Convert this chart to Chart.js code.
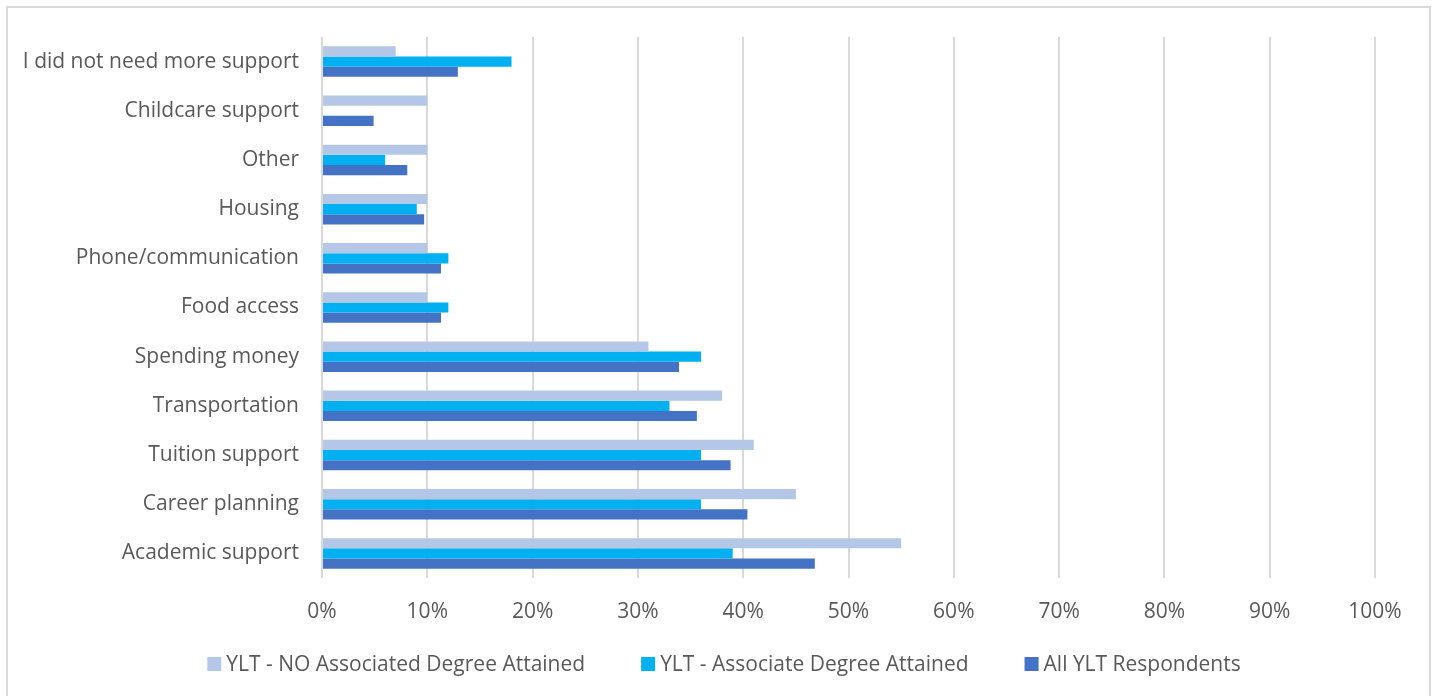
<!DOCTYPE html>
<html>
<head>
<meta charset="utf-8">
<title>YLT support needs</title>
<script src="https://cdn.jsdelivr.net/npm/chart.js@4.4.1/dist/chart.umd.min.js"></script>
<style>
    html, body { margin: 0; padding: 0; background: #ffffff; }
    .chart-wrap { position: relative; width: 1434px; height: 696px; overflow: hidden; }
    .chart-frame {
        position: absolute; left: 6px; top: 6px; width: 1421px; height: 720px;
        border: 2px solid #d9d9d9; pointer-events: none;
    }
</style>
</head>
<body>
<div class="chart-wrap">
    <canvas id="supportChart" width="1434" height="696"></canvas>
    <div class="chart-frame"></div>
</div>
<script>
// Категории (сверху вниз, как на картинке)
const categories = [
    'I did not need more support',
    'Childcare support',
    'Other',
    'Housing',
    'Phone/communication',
    'Food access',
    'Spending money',
    'Transportation',
    'Tuition support',
    'Career planning',
    'Academic support'
];

// Значения серий, %
const noDegreeValues = [7, 10, 10, 10, 10, 10, 31, 38, 41, 45, 55];
const degreeValues = [18, 0, 6, 9, 12, 12, 36, 33, 36, 36, 39];
const allRespondentsValues = [12.9, 4.9, 8.1, 9.7, 11.3, 11.3, 33.9, 35.6, 38.8, 40.4, 46.8];

const seriesNames = [
    'YLT - NO Associated Degree Attained',
    'YLT - Associate Degree Attained',
    'All YLT Respondents'
];

// Подписи оси X
const xTicks = [0, 10, 20, 30, 40, 50, 60, 70, 80, 90, 100];

const textColor = '#595959';
const fontFamily = "'Open Sans', sans-serif";

document.addEventListener('DOMContentLoaded', function() {
    initSupportChart();
});

// Легенда в стиле Excel: маленький квадрат и текст рядом
const excelLegend = {
    id: 'excelLegend',
    afterDraw(chart, args, opts) {
        const ctx = chart.ctx;
        const items = chart.data.datasets;
        ctx.save();
        ctx.font = opts.fontSize + 'px ' + fontFamily;
        ctx.textBaseline = 'middle';
        ctx.textAlign = 'left';

        const widths = items.map(ds => opts.box + opts.boxGap + ctx.measureText(ds.label).width);
        const total = widths.reduce((a, b) => a + b, 0) + opts.itemGap * (items.length - 1);
        let x = chart.width / 2 + opts.shift - total / 2;
        const y = opts.y;

        items.forEach((ds, i) => {
            ctx.fillStyle = ds.backgroundColor;
            ctx.fillRect(x, y - opts.box / 2, opts.box, opts.box);
            ctx.fillStyle = textColor;
            ctx.fillText(ds.label, x + opts.box + opts.boxGap, y + 1);
            x += widths[i] + opts.itemGap;
        });
        ctx.restore();
    }
};

function initSupportChart() {
    const ctx = document.getElementById('supportChart');
    if (!ctx) return;

    new Chart(ctx, {
        type: 'bar',
        data: {
            labels: categories,
            datasets: [
                { label: seriesNames[0], data: noDegreeValues, backgroundColor: '#b4c7e7' },
                { label: seriesNames[1], data: degreeValues, backgroundColor: '#00b0f0' },
                { label: seriesNames[2], data: allRespondentsValues, backgroundColor: '#4472c4' }
            ]
        },
        plugins: [excelLegend],
        options: {
            indexAxis: 'y',
            responsive: false,
            animation: false,
            categoryPercentage: 0.62,
            barPercentage: 1.0,
            layout: {
                padding: { top: 37, right: 59, bottom: 68, left: 0 }
            },
            plugins: {
                legend: { display: false },
                tooltip: { enabled: false },
                excelLegend: { fontSize: 21, box: 14, boxGap: 5, itemGap: 56, shift: 7, y: 664 }
            },
            scales: {
                x: {
                    min: 0,
                    max: 100,
                    afterBuildTicks: function(scale) {
                        scale.ticks = xTicks.map(v => ({ value: v }));
                    },
                    afterFit: function(scale) { scale.height = 50; },
                    grid: { color: '#d9d9d9', lineWidth: 2, drawTicks: false },
                    border: { display: false },
                    ticks: {
                        padding: 21,
                        color: textColor,
                        font: { size: 21, family: fontFamily },
                        callback: function(value) { return value + '%'; }
                    }
                },
                y: {
                    afterFit: function(scale) { scale.width = 322; },
                    grid: { display: false, drawTicks: false },
                    border: { display: false },
                    ticks: {
                        padding: 23,
                        color: textColor,
                        font: { size: 21, family: fontFamily },
                        autoSkip: false
                    }
                }
            }
        }
    });
}
</script>
</body>
</html>
